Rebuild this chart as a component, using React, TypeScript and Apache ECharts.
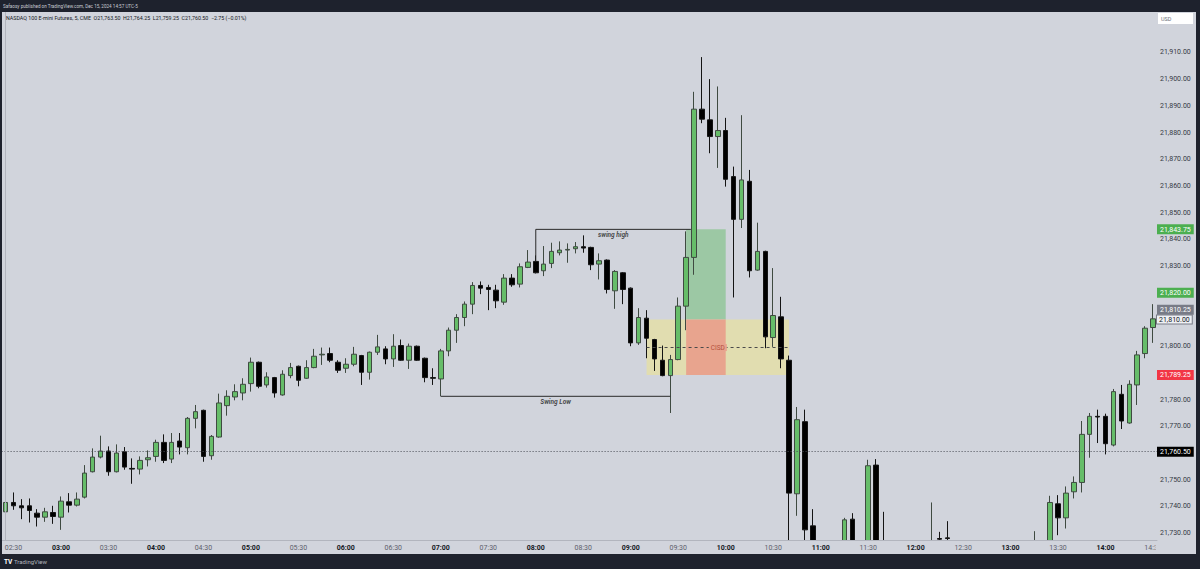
import React, { useEffect, useRef } from "react";
import * as echarts from "echarts";

// ---------- DATA ----------
const startMinutes = 2 * 60 + 25; // first bar 02:25, 5-minute bars
const barCount = 146;
const times: string[] = Array.from({ length: barCount }, (_, i) => {
  const m = startMinutes + i * 5;
  return `${String(Math.floor(m / 60)).padStart(2, "0")}:${String(m % 60).padStart(2, "0")}`;
});

// [open, close, low, high]; null = bar entirely below the visible range
const ohlc: (number[] | null)[] = [
  [21738, 21741.5, 21737.5, 21745],
  [21741.5, 21740.25, 21738.75, 21745.25],
  [21740.25, 21739.5, 21735.25, 21742.75],
  [21740.25, 21738.5, 21734, 21743],
  [21737.5, 21736, 21732.5, 21739],
  [21736, 21738, 21734.25, 21739.5],
  [21737.75, 21736.25, 21733.5, 21740.25],
  [21736, 21742, 21731.25, 21743.75],
  [21741.75, 21740.5, 21737.75, 21745],
  [21740.5, 21742.75, 21740, 21745.25],
  [21743.5, 21752.5, 21743, 21755.5],
  [21753, 21758.5, 21752.75, 21761.75],
  [21758.5, 21760.75, 21758, 21766.5],
  [21760.75, 21753, 21751.5, 21762.5],
  [21753, 21760, 21752.75, 21763.25],
  [21760.5, 21754.75, 21753.75, 21762.25],
  [21754.25, 21754, 21748.5, 21758],
  [21754, 21757.25, 21752, 21758.75],
  [21757.5, 21758.25, 21755, 21761],
  [21758.75, 21764, 21756.75, 21765],
  [21764, 21757.25, 21756.25, 21767],
  [21757.75, 21764, 21756.25, 21767.5],
  [21764.5, 21762.25, 21759.5, 21767.5],
  [21762, 21773, 21759.5, 21773.5],
  [21773, 21775.5, 21769.25, 21778],
  [21776, 21758.75, 21756.75, 21776.25],
  [21759, 21766.25, 21757.5, 21766.75],
  [21766, 21778.75, 21765.75, 21782.25],
  [21777.75, 21781.25, 21774, 21783.5],
  [21781, 21783, 21779.75, 21785.75],
  [21782.5, 21785.75, 21779.75, 21788],
  [21786, 21794, 21783, 21795.75],
  [21794, 21785, 21784.25, 21794.25],
  [21785.5, 21788.5, 21784.5, 21790.25],
  [21788.25, 21782.5, 21780.75, 21788.5],
  [21781.75, 21789.5, 21781.5, 21791],
  [21789, 21792, 21788, 21793.75],
  [21792.5, 21787.25, 21785, 21792.75],
  [21788, 21792, 21787.75, 21794.75],
  [21792, 21796.25, 21791.75, 21799],
  [21796.75, 21797, 21793, 21799.5],
  [21797.25, 21794.75, 21794, 21799.5],
  [21794, 21791, 21790, 21794.75],
  [21791.75, 21793.25, 21790, 21795.5],
  [21793.25, 21797, 21792.5, 21799.75],
  [21796.5, 21790.25, 21785.5, 21796.75],
  [21790.25, 21797.75, 21787.5, 21798],
  [21797.75, 21799.75, 21796.75, 21804.25],
  [21799, 21795.25, 21793.25, 21800],
  [21795.25, 21800, 21792.25, 21804.5],
  [21800.25, 21794.75, 21794.5, 21802.5],
  [21794.75, 21800, 21791.5, 21801],
  [21800, 21794.75, 21794.5, 21800.25],
  [21795.5, 21788.25, 21786.5, 21795.75],
  [21788.25, 21788, 21785.5, 21791.75],
  [21787.75, 21798.25, 21781.25, 21799],
  [21798.25, 21806, 21796.25, 21807],
  [21806, 21810.75, 21801.25, 21812],
  [21810.75, 21815.75, 21807.5, 21816.75],
  [21815.75, 21822.75, 21812, 21824],
  [21822.75, 21821.75, 21819.5, 21824.25],
  [21822, 21821.25, 21813.5, 21823],
  [21821, 21817, 21814.25, 21823],
  [21816.5, 21825.5, 21815.5, 21827],
  [21825.5, 21823, 21822.25, 21827],
  [21823.25, 21829.75, 21822, 21831],
  [21829.5, 21831.5, 21829.25, 21836],
  [21831.75, 21827.5, 21827.25, 21834],
  [21828.25, 21830.75, 21826.25, 21837.5],
  [21831, 21835.5, 21829.25, 21838.75],
  [21835, 21836, 21834, 21839.25],
  [21836, 21836.25, 21831.25, 21838.5],
  [21836.5, 21837.25, 21834.75, 21839],
  [21837.25, 21836.75, 21835, 21841.5],
  [21837, 21830.5, 21828.5, 21837.25],
  [21830.75, 21832, 21825, 21834.75],
  [21832.25, 21821.25, 21819.75, 21832.5],
  [21820.75, 21828, 21814, 21828.5],
  [21827.5, 21821.25, 21815.75, 21827.75],
  [21821.75, 21801.25, 21800, 21822],
  [21801.25, 21810.75, 21800.5, 21814.25],
  [21810.5, 21803, 21795.5, 21813.5],
  [21802.5, 21795.25, 21790.75, 21802.75],
  [21794.75, 21789, 21788.75, 21800.25],
  [21789, 21795, 21775, 21796.75],
  [21795, 21815, 21794.75, 21818.25],
  [21815, 21833.25, 21806, 21843],
  [21833.25, 21888.75, 21826.75, 21895.25],
  [21888.75, 21885, 21883.5, 21908.25],
  [21884.75, 21878.5, 21872.25, 21900],
  [21878.5, 21880.75, 21866.75, 21897.25],
  [21880.75, 21862.5, 21859.75, 21885.5],
  [21863.5, 21847.5, 21818.25, 21867.25],
  [21847.5, 21862.25, 21844.25, 21886.5],
  [21861.75, 21828.25, 21825.75, 21866],
  [21828.5, 21835.5, 21828.25, 21846.25],
  [21835.5, 21803.5, 21799.25, 21835.75],
  [21803.25, 21811.5, 21799.75, 21829.25],
  [21811, 21795.25, 21791.75, 21818.5],
  [21794.75, 21745, 21724, 21796.5],
  [21744.75, 21772.5, 21736.5, 21777.25],
  [21771.75, 21731.25, 21725, 21776.25],
  [21732.75, 21722, 21719, 21739],
  null,
  null,
  null,
  [21724, 21735, 21721, 21735.75],
  [21735.25, 21723, 21720, 21737.5],
  null,
  [21722, 21755.25, 21720, 21757.5],
  [21755.5, 21724, 21721, 21757.75],
  [21724, 21722, 21719, 21738],
  null,
  null,
  null,
  null,
  null,
  [21722, 21723, 21718, 21741.5],
  [21728, 21727.75, 21722, 21730.5],
  [21728.25, 21728, 21722, 21734.5],
  null,
  null,
  null,
  null,
  null,
  null,
  null,
  null,
  null,
  null,
  [21722, 21724, 21718, 21730.75],
  null,
  [21724, 21741.5, 21720, 21744],
  [21741, 21735.75, 21729.25, 21744.25],
  [21735.75, 21745, 21731.75, 21747.5],
  [21745.5, 21749, 21743, 21751.25],
  [21749, 21767, 21745.25, 21772],
  [21767, 21773.75, 21758.25, 21775],
  [21773.75, 21773.5, 21763.75, 21776.25],
  [21773.75, 21763.5, 21759.5, 21774.75],
  [21763, 21783, 21762.5, 21784],
  [21782, 21772, 21769, 21785.5],
  [21771.25, 21785.75, 21771, 21787.25],
  [21785.5, 21796.75, 21778, 21798.25],
  [21797.25, 21806.75, 21795.5, 21807.5],
  [21807, 21810.25, 21801.25, 21815.75],
];

const priceTicks = [
  21730, 21740, 21750, 21770, 21780, 21800, 21830, 21840, 21850, 21860, 21870, 21880, 21890, 21900, 21910,
];
// drawn in this order (later ones on top)
const tagValues = [21843.75, 21820.0, 21810.0, 21810.25, 21789.25, 21760.5];
const tagKinds = ["green", "green", "outline", "gray", "red", "black"];
const lastPrice = 21760.5;
const yMin = 21727.45;
const yMax = 21925.13;

// annotations (x in bar index, y in price)
const swingHighLine = [
  [67, 21831.75],
  [67, 21843.75],
  [86.6, 21843.75],
];
const swingLowLine = [
  [55, 21781.25],
  [84, 21781.25],
];
const annotationLabels = [
  { name: "swing high", at: [76.8, 21843.75] },
  { name: "Swing Low", at: [69.5, 21781.25] },
];
const cisdLevel = 21799.5;
const zoneBars = [81, 99];
const zonePrices = [21810, 21789.25];
const positionBars = [86, 91];
const positionEntry = 21810;
const positionTarget = 21843.75;
const positionStop = 21789.25;

const headerText = "Safaosy published on TradingView.com, Dec 15, 2024 14:57 UTC-5";
const legendText =
  "NASDAQ 100 E-mini Futures, 5, CME  O21,763.50  H21,764.25  L21,759.25  C21,760.50  \u22122.75 (\u22120.01%)";

// ---------- STYLE ----------
const LIGHT = "#d1d4dc";
const DARK = "#1e222d";
const FONT = 'Roboto, "Liberation Sans", Arial, sans-serif';
const RED_ZONE = "#e8a48e";

const fmtPrice = (v: number) =>
  v.toLocaleString("en-US", { minimumFractionDigits: 2, maximumFractionDigits: 2 });

export default function App() {
  const ref = useRef<HTMLDivElement>(null);

  useEffect(() => {
    if (!ref.current) return;
    const chart = echarts.init(ref.current, undefined, { renderer: "svg" });

    const tagRich: any = {
      green: { backgroundColor: "#4caf50", color: "#ffffff", padding: [2, 3, 1, 3], fontSize: 7, fontFamily: FONT },
      gray: { backgroundColor: "#787b86", color: "#ffffff", padding: [2, 3, 1, 3], fontSize: 7, fontFamily: FONT },
      outline: {
        backgroundColor: "#eef0f4",
        borderColor: "#787b86",
        borderWidth: 1,
        color: "#131722",
        padding: [1, 2, 0, 2],
        fontSize: 7,
        fontFamily: FONT,
      },
      red: { backgroundColor: "#f23645", color: "#ffffff", padding: [2, 3, 1, 3], fontSize: 7, fontFamily: FONT },
      black: { backgroundColor: "#000000", color: "#ffffff", padding: [2, 3, 1, 3], fontSize: 7, fontFamily: FONT },
      sp: { height: 18, fontSize: 1 },
    };

    const option: any = {
      animation: false,
      backgroundColor: LIGHT,
      textStyle: { fontFamily: FONT },
      grid: { left: 1.6, right: 43, top: 12, bottom: 29, containLabel: false },
      xAxis: [
        {
          type: "category",
          data: times,
          boundaryGap: true,
          z: 10,
          axisLine: { show: true, lineStyle: { color: "#b2b5be" } },
          axisTick: { show: false },
          splitLine: { show: false },
          axisLabel: {
            interval: (_i: number, v: string) => v.endsWith(":00") || v.endsWith(":30"),
            margin: 4,
            formatter: (v: string) => (v.endsWith(":00") ? `{h|${v}}` : `{m|${v}}`),
            rich: {
              h: { fontSize: 7, fontWeight: "bold", color: "#131722", fontFamily: FONT },
              m: { fontSize: 7, color: "#5d606b", fontFamily: FONT },
            },
          },
        },
        { type: "value", min: -0.5, max: barCount - 0.5, show: false },
      ],
      yAxis: [
        {
          type: "value",
          position: "right",
          min: yMin,
          max: yMax,
          z: 10,
          axisLine: { show: true, lineStyle: { color: "#b2b5be" } },
          axisTick: { show: false },
          splitLine: { show: false },
          axisLabel: {
            customValues: priceTicks,
            margin: 3,
            fontSize: 7,
            color: "#363a45",
            formatter: (v: number) => fmtPrice(v),
          },
        },
        {
          type: "value",
          position: "right",
          min: yMin,
          max: yMax,
          z: 11,
          axisLine: { show: false },
          axisTick: { show: false },
          splitLine: { show: false },
          axisLabel: {
            customValues: tagValues,
            margin: 0,
            formatter: (v: number) => {
              const k = tagKinds[tagValues.indexOf(v)] || "gray";
              const t = `{${k}|${fmtPrice(v)}}`;
              if (k === "gray") return `${t}\n{sp|}`;
              return t;
            },
            rich: tagRich,
          },
        },
      ],
      series: [
        {
          name: "zones",
          type: "line",
          xAxisIndex: 1,
          yAxisIndex: 0,
          data: [],
          silent: true,
          z: 1,
          markArea: {
            silent: true,
            z: 1,
            data: [
              [
                { coord: [zoneBars[0], zonePrices[0]], itemStyle: { color: "#e1ddb0" } },
                { coord: [zoneBars[1], zonePrices[1]] },
              ],
              [
                { coord: [positionBars[0], positionTarget], itemStyle: { color: "#9cc8a4" } },
                { coord: [positionBars[1], positionEntry] },
              ],
              [
                { coord: [positionBars[0], positionEntry], itemStyle: { color: RED_ZONE } },
                { coord: [positionBars[1], positionStop] },
              ],
            ],
          },
          markLine: {
            silent: true,
            symbol: ["none", "none"],
            z: 4,
            lineStyle: { type: [3, 3], color: "#4a4a4a", width: 1 },
            label: {
              show: true,
              position: "middle",
              formatter: "CISD",
              color: "#b5503c",
              fontSize: 6.5,
              fontFamily: FONT,
              distance: 0,
              verticalAlign: "middle",
              backgroundColor: RED_ZONE,
              padding: [0, 2],
            },
            data: [[{ coord: [zoneBars[0], cisdLevel] }, { coord: [zoneBars[1], cisdLevel] }]],
          },
        },
        {
          name: "ohlc",
          type: "candlestick",
          xAxisIndex: 0,
          yAxisIndex: 0,
          data: ohlc.map((d) => (d ? d : "-")),
          barWidth: 5,
          clip: true,
          z: 3,
          itemStyle: {
            color: "#66bd69",
            color0: "#000000",
            borderColor: "#3f4a41",
            borderColor0: "#141414",
            borderWidth: 1,
          },
          markLine: {
            silent: true,
            symbol: ["none", "none"],
            label: { show: false },
            lineStyle: { type: [1, 2], color: "#4a4d55", width: 1 },
            data: [{ yAxis: lastPrice }],
          },
        },
        {
          name: "swing high",
          type: "line",
          xAxisIndex: 1,
          yAxisIndex: 0,
          data: swingHighLine,
          symbol: "none",
          silent: true,
          z: 4,
          lineStyle: { color: "#2a2a2a", width: 1 },
        },
        {
          name: "swing low",
          type: "line",
          xAxisIndex: 1,
          yAxisIndex: 0,
          data: swingLowLine,
          symbol: "none",
          silent: true,
          z: 4,
          lineStyle: { color: "#2a2a2a", width: 1 },
        },
        {
          name: "labels",
          type: "scatter",
          xAxisIndex: 1,
          yAxisIndex: 0,
          symbolSize: 0,
          silent: true,
          z: 5,
          data: annotationLabels.map((a) => ({ name: a.name, value: a.at })),
          label: {
            show: true,
            position: "bottom",
            distance: 2,
            formatter: "{b}",
            fontSize: 6.5,
            fontStyle: "italic",
            fontWeight: "bold",
            color: "#1e1e1e",
            fontFamily: FONT,
          },
        },
      ],
      graphic: [
        // mask below the plot so bars running off the bottom are cut at the time scale
        { type: "rect", z: 8, shape: { x: 0, y: 540.5, width: 1200, height: 14 }, style: { fill: LIGHT } },
        { type: "rect", z: 90, shape: { x: 1155.5, y: 541, width: 41, height: 13 }, style: { fill: LIGHT } },
        { type: "rect", z: 100, shape: { x: 0, y: 0, width: 1200, height: 12 }, style: { fill: DARK } },
        { type: "rect", z: 100, shape: { x: 0, y: 554, width: 1200, height: 15 }, style: { fill: DARK } },
        { type: "rect", z: 100, shape: { x: 0, y: 0, width: 2, height: 569 }, style: { fill: DARK } },
        { type: "rect", z: 100, shape: { x: 1196, y: 0, width: 4, height: 569 }, style: { fill: DARK } },
        {
          type: "text",
          z: 101,
          x: 3,
          y: 6,
          style: { text: headerText, fill: "#c8cbd3", fontSize: 4.6, fontFamily: FONT, verticalAlign: "middle" },
        },
        {
          type: "text",
          z: 101,
          x: 6,
          y: 17.5,
          style: { text: legendText, fill: "#131722", fontSize: 5.3, fontFamily: FONT, verticalAlign: "middle" },
        },
        { type: "rect", z: 101, shape: { x: 1158, y: 13, width: 35, height: 11 }, style: { fill: "#ffffff" } },
        {
          type: "text",
          z: 102,
          x: 1161,
          y: 18.5,
          style: { text: "USD", fill: "#6a6d78", fontSize: 5.5, fontFamily: FONT, verticalAlign: "middle" },
        },
        {
          type: "text",
          z: 101,
          x: 4,
          y: 561.5,
          style: { text: "TV", fill: "#ffffff", fontSize: 6.5, fontWeight: "bold", fontFamily: FONT, verticalAlign: "middle" },
        },
        {
          type: "text",
          z: 101,
          x: 14,
          y: 561.5,
          style: { text: "TradingView", fill: "#b2b5be", fontSize: 6, fontFamily: FONT, verticalAlign: "middle" },
        },
      ],
    };

    chart.setOption(option);
    return () => chart.dispose();
  }, []);

  return <div ref={ref} style={{ position: "fixed", left: 0, top: 0, width: 1200, height: 569 }} />;
}
